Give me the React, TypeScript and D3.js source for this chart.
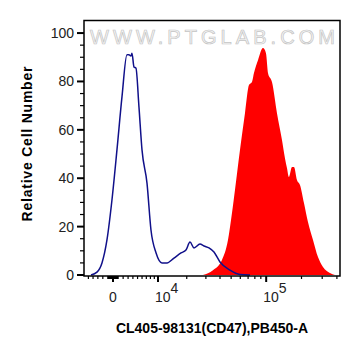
import React, { useEffect, useRef } from 'react';
import * as d3 from 'd3';

// CD47 (CL405) histogram, blue = control, red = stained
const blueX = [-4440, -3180, -2170, -1180, -200, 780, 1770, 2770, 3180, 3600, 3800, 4230, 4650, 5310, 5990, 7160, 8140, 9470, 11130, 12650, 14980, 17600, 19670, 21460, 23380, 26530, 28830, 31960, 35390, 39970, 48850, 59610, 72660];
const blueY = [0, 1.2, 5, 14.5, 31, 51.7, 73.6, 91, 91, 90.5, 91.7, 86, 85.5, 69.4, 51.7, 38, 18.6, 9.1, 5, 5, 7, 9.1, 10.3, 13.6, 11.2, 12.8, 12, 11.2, 9.5, 5.4, 2, 0.2, 0];

const redX = [28240, 34680, 41610, 46940, 50840, 53970, 59610, 65810, 71230, 75590, 78630, 85080, 93880, 99590, 103590, 112050, 123620, 136370, 144600, 150400, 156400, 165900, 172600, 183000, 194100, 209900, 227000, 250500, 276200, 304600, 349300, 385200];
const redY = [0, 2, 6.2, 14.5, 25.6, 35.1, 51.7, 66.9, 78.5, 79.8, 83.5, 88.8, 93.8, 91.7, 83.5, 79.8, 66.9, 55.8, 48.3, 44.2, 40.5, 44.6, 44.6, 39.3, 37.2, 29.8, 21.9, 14.5, 7.4, 3.3, 0.8, 0];

const yTicks = [0, 20, 40, 60, 80, 100];
const xMajor = [0, 10000, 100000];
const xMajorLabels = [['0', ''], ['10', '4'], ['10', '5']];

const App = () => {
  const svgRef = useRef<SVGSVGElement>(null);

  useEffect(() => {
    const width = 361;
    const height = 356;
    const marginLeft = 84;
    const marginRight = 21;
    const marginTop = 20;
    const bottom = 275;
    const W = 10000; // linear width of the biexponential axis

    const svg = d3.select(svgRef.current)
      .attr('width', width)
      .attr('height', height)
      .attr('viewBox', [0, 0, width, height])
      .style('position', 'absolute')
      .style('left', 0)
      .style('top', 0)
      .style('font-family', '"Liberation Sans", Arial, sans-serif');
    svg.selectAll('*').remove();

    const xt = d3.scaleLinear()
      .domain([Math.asinh(-5980 / W), Math.asinh(425000 / W)])
      .range([marginLeft, width - marginRight]);
    const x = (v: number) => xt(Math.asinh(v / W));

    const y = d3.scaleLinear()
      .domain([0, 105.4])
      .range([bottom, marginTop]);

    // watermark
    svg.append('text')
      .attr('x', 90)
      .attr('y', 44)
      .attr('font-size', 20)
      .attr('textLength', 245)
      .attr('lengthAdjust', 'spacing')
      .attr('fill', '#f6f6f6')
      .attr('stroke', '#c4c4c4')
      .attr('stroke-width', 0.7)
      .text('WWW.PTGLAB.COM');

    // red filled histogram
    const area = d3.area<number>()
      .x((d, i) => x(redX[i]))
      .y0(y(0))
      .y1((d) => y(d))
      .curve(d3.curveMonotoneX);
    svg.append('path')
      .datum(redY)
      .attr('fill', '#ff0000')
      .attr('d', area);

    // blue outline histogram
    const line = d3.line<number>()
      .x((d, i) => x(blueX[i]))
      .y((d) => y(d))
      .curve(d3.curveMonotoneX);
    svg.append('path')
      .datum(blueY)
      .attr('fill', 'none')
      .attr('stroke', '#10108a')
      .attr('stroke-width', 1.5)
      .attr('d', line);

    // frame
    svg.append('rect')
      .attr('x', marginLeft)
      .attr('y', marginTop + 0.5)
      .attr('width', width - marginRight - marginLeft)
      .attr('height', bottom + 0.5 - marginTop)
      .attr('fill', 'none')
      .attr('stroke', '#000')
      .attr('stroke-width', 1.5);

    // y axis
    const yMinor = d3.range(0, 105, 5).filter((v) => v % 20 !== 0);
    svg.append('g')
      .selectAll('line')
      .data(yMinor)
      .join('line')
      .attr('x1', marginLeft - 4)
      .attr('x2', marginLeft)
      .attr('y1', (d) => y(d))
      .attr('y2', (d) => y(d))
      .attr('stroke', '#000')
      .attr('stroke-width', 1.2);
    svg.append('g')
      .selectAll('line')
      .data(yTicks)
      .join('line')
      .attr('x1', marginLeft - 7)
      .attr('x2', marginLeft)
      .attr('y1', (d) => y(d))
      .attr('y2', (d) => y(d))
      .attr('stroke', '#000')
      .attr('stroke-width', 2);
    svg.append('g')
      .selectAll('text')
      .data(yTicks)
      .join('text')
      .attr('x', 74)
      .attr('y', (d) => y(d) + 5)
      .attr('text-anchor', 'end')
      .attr('font-size', 14)
      .attr('fill', '#222')
      .text((d) => d);

    // x axis ticks
    const xMinor = [
      ...d3.range(-5000, 0, 1000),
      ...d3.range(-900, 1000, 100),
      ...d3.range(1000, 10000, 1000),
      ...d3.range(20000, 100000, 10000),
      ...d3.range(200000, 500000, 100000),
    ].filter((v) => x(v) >= marginLeft && x(v) <= width - marginRight);
    const axisY = bottom + 1;
    svg.append('g')
      .selectAll('line')
      .data(xMinor)
      .join('line')
      .attr('x1', (d) => x(d))
      .attr('x2', (d) => x(d))
      .attr('y1', axisY)
      .attr('y2', axisY + 3)
      .attr('stroke', '#000')
      .attr('stroke-width', 1.2);
    svg.append('g')
      .selectAll('line')
      .data(xMajor)
      .join('line')
      .attr('x1', (d) => x(d))
      .attr('x2', (d) => x(d))
      .attr('y1', axisY)
      .attr('y2', axisY + 6)
      .attr('stroke', '#000')
      .attr('stroke-width', 2);
    const xl = svg.append('g')
      .selectAll('text')
      .data(xMajor)
      .join('text')
      .attr('x', (d, i) => (i === 0 ? x(d) : x(d) - 3))
      .attr('y', 302)
      .attr('text-anchor', (d, i) => (i === 0 ? 'middle' : 'start'))
      .attr('font-size', 14)
      .attr('fill', '#222');
    xl.append('tspan').text((d, i) => xMajorLabels[i][0]);
    xl.append('tspan')
      .attr('dy', -9)
      .text((d, i) => xMajorLabels[i][1]);

    // titles
    svg.append('text')
      .attr('x', 212)
      .attr('y', 333)
      .attr('text-anchor', 'middle')
      .attr('font-size', 14)
      .attr('font-weight', 'bold')
      .text('CL405-98131(CD47),PB450-A');
    svg.append('text')
      .attr('transform', 'translate(32,144) rotate(-90)')
      .attr('text-anchor', 'middle')
      .attr('font-size', 14)
      .attr('font-weight', 'bold')
      .attr('textLength', 155)
      .attr('lengthAdjust', 'spacing')
      .text('Relative Cell Number');
  }, []);

  return <svg ref={svgRef}></svg>;
};

export default App;
